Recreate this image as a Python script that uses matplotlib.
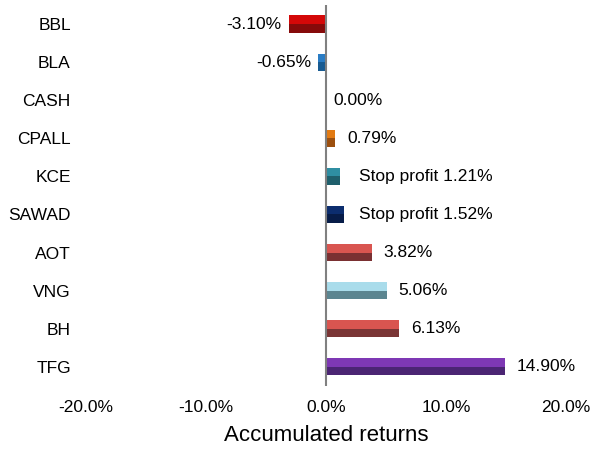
import matplotlib.pyplot as plt

plt.rcParams['font.family'] = ['Liberation Sans', 'DejaVu Sans']

# data
stocks = ['BBL', 'BLA', 'CASH', 'CPALL', 'KCE', 'SAWAD', 'AOT', 'VNG', 'BH', 'TFG']
returns = [-3.10, -0.65, 0.00, 0.79, 1.21, 1.52, 3.82, 5.06, 6.13, 14.90]
labels = ['-3.10%', '-0.65%', '0.00%', '0.79%', 'Stop profit 1.21%', 'Stop profit 1.52%',
          '3.82%', '5.06%', '6.13%', '14.90%']
top_colors = ['#d40808', '#2a7cc4', '#ffffff', '#e27a12', '#2f8ea2', '#0c2d6e',
              '#d95550', '#a9dceb', '#d95550', '#7e38b4']
bottom_colors = ['#860a0a', '#185b92', '#ffffff', '#9c4f0e', '#1f5f6c', '#071c48',
                 '#7a3032', '#5b8590', '#7a3535', '#4b2573']
ticks = [-20, -10, 0, 10, 20]


def main():
    fig = plt.figure(figsize=(5.9, 4.54), dpi=100)
    ax = fig.add_axes([0.146, 0.150, 0.813, 0.839])
    y = list(range(len(stocks)))
    h = 0.45
    # two-tone bars to imitate the bevel look
    ax.barh(y, returns, height=h, color=top_colors, zorder=2)
    ax.barh([v + h / 4 for v in y], returns, height=h / 2, color=bottom_colors, zorder=3)
    ax.axvline(0, color='#808080', lw=1.5, zorder=4)

    for i, (v, t) in enumerate(zip(returns, labels)):
        if v < 0:
            ax.text(v - 0.6, i, t, ha='right', va='center', fontsize=12.5)
        elif v == 0:
            ax.text(v + 0.6, i, t, ha='left', va='center', fontsize=12.5)
        elif t.startswith('Stop'):
            ax.text(2.75, i, t, ha='left', va='center', fontsize=12.5)
        else:
            ax.text(v + 1.0, i, t, ha='left', va='center', fontsize=12.5)

    ax.set_xlim(-20, 20)
    ax.set_ylim(len(stocks) - 0.5, -0.5)
    ax.set_xticks(ticks)
    ax.set_xticklabels([f'{t:.1f}%' for t in ticks], fontsize=12.5)
    ax.set_yticks(y)
    ax.set_yticklabels(stocks, fontsize=12.5)
    ax.tick_params(axis='y', length=0, pad=11)
    ax.tick_params(axis='x', length=0, pad=10)
    for s in ax.spines.values():
        s.set_visible(False)
    ax.set_xlabel('Accumulated returns', fontsize=16, labelpad=7)
    fig.savefig('out.png', dpi=100)


if __name__ == '__main__':
    main()
